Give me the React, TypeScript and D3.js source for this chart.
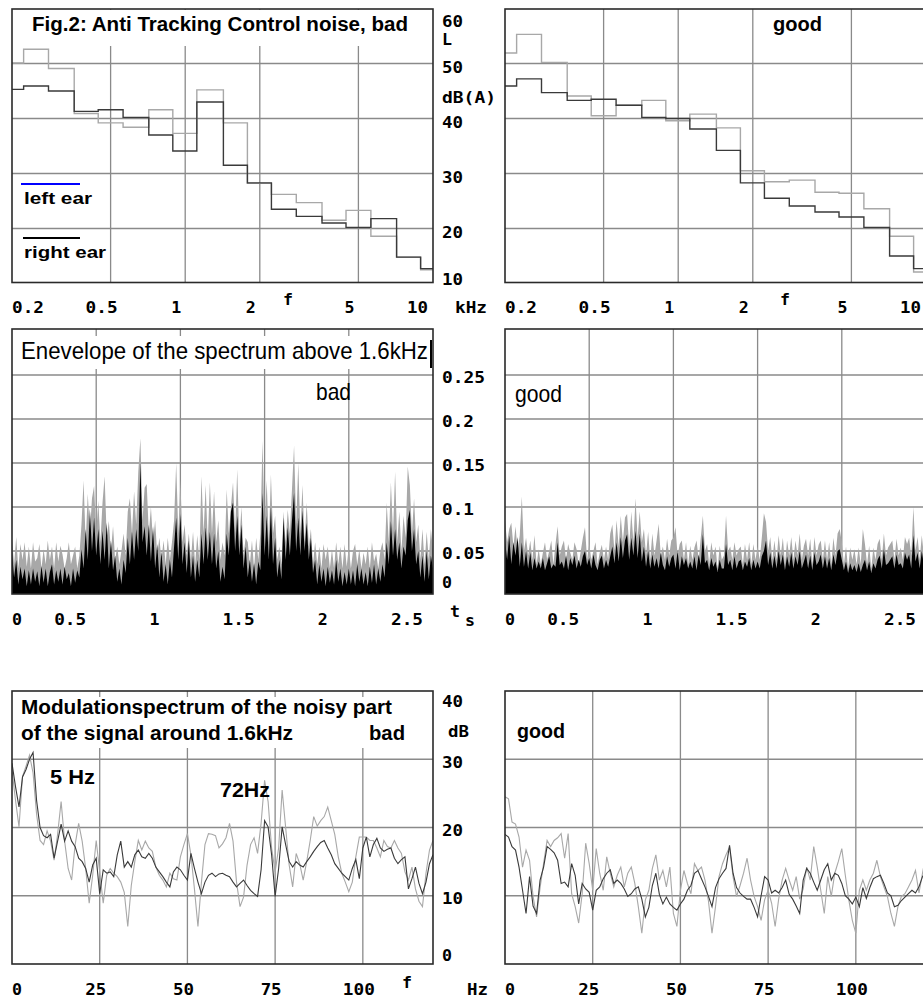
import React from 'react'
import * as d3 from 'd3'

// ---- top row: 1/3 octave spectra, band centres (kHz) and levels dB(A)
const bands = [0.2, 0.25, 0.315, 0.4, 0.5, 0.63, 0.8, 1, 1.25, 1.6, 2, 2.5, 3.15, 4, 5, 6.3, 8, 10]
const badLeft = [50.1, 52.6, 49.1, 40.9, 39.2, 38.4, 41.6, 37.3, 45.2, 39.2, 28.2, 26.2, 24.7, 21.5, 23.3, 18.6, 14.8, 12.5]
const badRight = [45.3, 45.9, 45.0, 41.3, 41.6, 40.2, 37.0, 34.1, 43.0, 31.5, 28.3, 23.5, 22.2, 21.0, 20.2, 21.8, 14.8, 12.7]
const goodLeft = [51.9, 55.3, 50.2, 44.1, 40.5, 42.4, 43.3, 39.6, 40.8, 38.3, 30.5, 28.5, 28.8, 26.6, 26.4, 23.6, 18.6, 12.1]
const goodRight = [45.9, 47.2, 44.7, 43.3, 43.5, 42.4, 40.2, 40.0, 38.1, 34.2, 28.3, 25.5, 24.1, 23.0, 22.1, 20.2, 15.0, 12.7]

const specTicks = [0.2, 0.5, 1, 2, 5, 10]
const specTickLabels = ['0.2', '0.5', '1', '2', '5', '10']
const specLevels = [60, 50, 40, 30, 20, 10]

// ---- middle row: envelope above 1.6kHz, one sample every 12.5 ms
const envStep = 0.0125
const envBadLeft = [
  .062, .035, .066, .030, .058, .040, .060, .032, .055, .030, .060, .038, .042, .058, .030, .052,
  .035, .062, .040, .055, .030, .060, .038, .056, .046, .030, .042, .060, .035, .045, .055, .030,
  .045, .080, .130, .060, .115, .070, .110, .124, .070, .107, .060, .105, .135, .065, .084, .050,
  .078, .040, .055, .035, .050, .070, .045, .095, .110, .070, .118, .080, .140, .178, .085, .122,
  .126, .070, .100, .060, .085, .045, .065, .040, .062, .035, .065, .040, .060, .085, .150, .070,
  .130, .060, .080, .045, .070, .040, .072, .035, .068, .040, .135, .070, .125, .060, .128, .070,
  .118, .060, .085, .040, .060, .045, .120, .070, .100, .128, .070, .143, .060, .100, .045, .065,
  .060, .035, .062, .030, .065, .040, .070, .175, .080, .130, .060, .137, .070, .090, .040, .055,
  .035, .095, .060, .097, .070, .120, .170, .080, .150, .070, .125, .060, .105, .055, .075, .035,
  .060, .035, .055, .030, .058, .040, .055, .030, .052, .030, .060, .035, .055, .030, .058, .032,
  .055, .030, .050, .058, .035, .052, .030, .048, .035, .055, .030, .060, .038, .047, .030, .050,
  .060, .040, .105, .060, .128, .070, .140, .060, .095, .050, .090, .065, .146, .125, .070, .110,
  .060, .080, .040, .075, .035, .072, .040, .075, .050
]
const envBadRight = [
  .048, .020, .040, .012, .032, .018, .030, .010, .028, .012, .030, .015, .027, .010, .033, .014,
  .030, .010, .026, .035, .012, .028, .015, .030, .012, .032, .018, .025, .010, .030, .014, .028,
  .020, .052, .030, .075, .040, .098, .050, .088, .045, .075, .035, .073, .040, .082, .030, .062,
  .028, .045, .015, .030, .012, .040, .025, .065, .035, .072, .040, .075, .050, .150, .060, .078,
  .045, .080, .038, .078, .030, .058, .020, .050, .015, .035, .012, .040, .020, .055, .088, .040,
  .092, .035, .060, .025, .062, .020, .045, .015, .040, .020, .070, .035, .077, .040, .072, .035,
  .070, .030, .050, .015, .032, .018, .070, .045, .095, .105, .050, .090, .045, .080, .030, .055,
  .020, .040, .015, .036, .012, .038, .028, .116, .045, .090, .040, .100, .035, .065, .020, .040,
  .018, .088, .040, .077, .045, .085, .116, .050, .088, .045, .096, .050, .082, .040, .065, .025,
  .040, .012, .035, .015, .030, .010, .032, .014, .028, .012, .040, .015, .030, .010, .026, .012,
  .030, .012, .028, .010, .035, .015, .030, .012, .026, .010, .032, .014, .035, .012, .030, .015,
  .035, .020, .060, .035, .084, .045, .075, .040, .060, .030, .055, .045, .085, .097, .050, .075,
  .035, .050, .020, .045, .015, .050, .018, .045, .030
]
const envGoodLeft = [
  .085, .060, .075, .082, .055, .078, .050, .068, .112, .050, .065, .045, .062, .040, .068, .035,
  .052, .035, .048, .060, .040, .050, .062, .035, .058, .078, .045, .055, .062, .040, .058, .048,
  .040, .060, .052, .035, .050, .065, .077, .040, .058, .040, .050, .060, .035, .048, .057, .040,
  .055, .040, .070, .080, .050, .085, .055, .090, .060, .088, .092, .055, .095, .060, .110, .065,
  .095, .060, .075, .045, .072, .040, .070, .045, .062, .081, .045, .055, .040, .064, .045, .062,
  .065, .077, .045, .058, .062, .040, .060, .035, .056, .040, .054, .062, .040, .065, .090, .050,
  .058, .035, .060, .045, .055, .030, .056, .040, .045, .090, .050, .055, .040, .060, .045, .052,
  .055, .035, .058, .040, .060, .035, .058, .040, .055, .040, .065, .093, .083, .050, .066, .040,
  .062, .040, .068, .045, .065, .035, .062, .045, .066, .040, .062, .045, .070, .040, .056, .064,
  .045, .064, .035, .066, .045, .057, .062, .040, .062, .040, .060, .035, .065, .045, .070, .075,
  .060, .035, .055, .030, .054, .040, .052, .035, .054, .035, .075, .058, .035, .056, .030, .054,
  .040, .058, .064, .040, .070, .045, .054, .058, .062, .040, .064, .045, .054, .040, .066, .058,
  .065, .045, .100, .050, .066, .040, .068, .045, .066
]
const envGoodRight = [
  .063, .040, .068, .035, .060, .045, .066, .032, .060, .032, .050, .030, .048, .028, .042, .030,
  .038, .030, .042, .028, .036, .044, .030, .035, .032, .060, .034, .038, .030, .045, .028, .042,
  .034, .045, .030, .040, .032, .044, .050, .034, .042, .030, .046, .034, .028, .040, .045, .030,
  .040, .032, .044, .055, .036, .060, .038, .066, .042, .062, .069, .040, .065, .045, .073, .042,
  .070, .038, .055, .032, .050, .030, .046, .032, .042, .030, .048, .034, .028, .044, .032, .042,
  .046, .030, .050, .028, .044, .034, .042, .030, .038, .030, .044, .028, .046, .034, .069, .036,
  .040, .028, .042, .032, .038, .026, .040, .030, .030, .058, .034, .040, .028, .044, .030, .038,
  .040, .028, .038, .032, .042, .028, .040, .030, .038, .030, .044, .050, .062, .034, .048, .030,
  .045, .030, .050, .034, .046, .028, .044, .032, .048, .030, .044, .034, .050, .030, .038, .046,
  .030, .045, .028, .048, .034, .038, .046, .030, .044, .030, .042, .028, .046, .034, .050, .052,
  .040, .028, .038, .025, .036, .028, .034, .026, .036, .026, .034, .040, .028, .038, .025, .036,
  .030, .040, .045, .030, .052, .034, .036, .040, .044, .030, .046, .034, .036, .030, .048, .040,
  .046, .030, .068, .038, .048, .030, .050, .034, .048
]
const envTicks = [0, 0.5, 1, 1.5, 2, 2.5]
const envTickLabels = ['0', '0.5', '1', '1.5', '2', '2.5']
const envLevels = [0.25, 0.2, 0.15, 0.1, 0.05, 0]
const envLevelLabels = ['0.25', '0.2', '0.15', '0.1', '0.05', '0']

// ---- bottom row: modulation spectrum, 1 Hz steps from 0 to 120 Hz, dB
const modBadLeft = [
  28.4, 24, 20.1, 27.5, 29, 30.6, 28, 22, 18.1, 17.5,
  19.5, 18, 15.2, 19, 23.8, 18, 14, 12.3, 17.5, 20.6,
  18, 14, 8.9, 13, 18.1, 13.5, 8.9, 13, 14, 13.3,
  12.8, 12, 10.5, 5.5, 11.5, 15, 18.1, 16.7, 18, 17,
  16.5, 14.2, 13, 12.3, 11.3, 13.3, 12.5, 12.3, 15.7, 17.5,
  19.1, 16, 11, 5.5, 12, 17.5, 19.1, 19, 18.8, 17,
  17.6, 18.5, 20.6, 18, 12, 8.4, 9.8, 14.5, 17.5, 18.5,
  16.2, 20.6, 26.9, 23.8, 17, 13.5, 17, 25.5, 20, 14.5,
  11.3, 16.2, 14.7, 12.3, 15, 18.1, 21.6, 20.2, 21, 21.6,
  23, 21, 19, 15.7, 13.3, 12, 10.6, 12, 15.7, 18.6,
  18.6, 18.6, 18.1, 18.1, 17, 15.7, 18.1, 17.2, 17, 18.1,
  17, 16.2, 13.5, 12.3, 14.2, 11, 9.2, 8.4, 13.3, 16.7,
  18.1
]
const modBadRight = [
  29.4, 26, 23, 27.4, 28.5, 30, 31, 24, 20, 18.8,
  18.5, 19, 15.5, 18, 20.5, 18, 19.5, 18, 17.2, 15.5,
  15, 14, 12, 14.5, 15.5, 10.3, 13.8, 13.3, 13.5, 12.8,
  16, 18, 14.2, 15, 14.2, 16, 16.7, 15.7, 15.5, 16.2,
  15.5, 14.2, 13.5, 12.8, 12, 11.3, 13.5, 14.2, 13.8, 13,
  12.3, 16.2, 14, 12, 10.3, 12, 13, 13.3, 12.8, 13.2,
  13.3, 13, 12.8, 12, 11.3, 11.8, 12.3, 11.5, 10.8, 10.3,
  9.9, 13.8, 21, 20.1, 16, 9.9, 14, 20.1, 17.5, 15,
  14.2, 15, 14.5, 14.2, 15, 15.7, 16.5, 17.2, 17.8, 18.1,
  17, 16, 14.7, 14, 13.3, 12.8, 12.3, 14, 15.3, 12.5,
  17, 18.6, 15.7, 17.5, 18.4, 17, 16.5, 16.8, 17, 15.5,
  14.7, 15.3, 15.7, 11, 12.5, 14.2, 11.8, 10.3, 12, 14.7,
  16
]
const modGoodLeft = [
  24.5, 24.2, 20.8, 20.5, 18.6, 14.2, 16.7, 15.2, 9.9, 6.9,
  11.2, 14.7, 18.1, 17.2, 18.1, 18.5, 19.1, 15.5, 19.1, 10.3,
  8.4, 6, 10.3, 17.7, 14.7, 10.8, 16.9, 13.3, 10.8, 15.7,
  13.3, 11.3, 13, 14.2, 11.3, 13.3, 14.2, 11.8, 8.4, 4.5,
  9.4, 10.8, 14, 16, 12.3, 13.7, 11.3, 14.2, 7.4, 5.5,
  10.8, 13.7, 11.8, 10.3, 14.7, 13.7, 14.2, 12.3, 9.2, 4.5,
  8.4, 12.8, 14.7, 16, 17.1, 12.8, 9.9, 11.5, 13.3, 15.5,
  12.3, 9.9, 8.4, 6.4, 9.4, 10.8, 8.9, 5.5, 9.5, 12.3,
  14, 12.3, 10.8, 12.8, 9.5, 11, 14.2, 12.3, 17.2, 14.2,
  10.8, 7.4, 12.8, 9.9, 13.3, 15, 16.9, 13, 9.4, 6.4,
  4.5, 10.8, 12.3, 10.8, 12.3, 13.3, 15.2, 12.8, 11.3, 9.9,
  7.4, 5.5, 8.4, 9.9, 10.3, 11.3, 12.3, 13.7, 10.4, 13.3,
  16
]
const modGoodRight = [
  19, 18.6, 17.2, 16.7, 14.2, 10.8, 7.4, 12.8, 8.5, 7.4,
  12.3, 14.2, 17.2, 16.8, 16.3, 15.2, 11.8, 12, 11.3, 14.7,
  13, 8.8, 11.8, 11, 10.5, 7.9, 10.8, 11.3, 12.5, 13.3,
  13.8, 11.8, 12.3, 11.8, 11, 9.9, 10.3, 11, 11.3, 9.5,
  6.9, 8.3, 11.5, 13.3, 10.2, 8.8, 9.8, 8.8, 8.3, 7.9,
  8.8, 9.5, 10.8, 11.5, 13.3, 13.7, 12.5, 11.3, 9.9, 8.4,
  11.2, 12.5, 13.3, 14, 17.4, 13.3, 11.2, 10.4, 9.9, 9.5,
  9.5, 8.3, 6.9, 10, 12.8, 12.3, 10.4, 10.8, 10.4, 11.2,
  12.3, 10.2, 9.5, 8.5, 7.4, 12.3, 14, 13.3, 12, 10.8,
  12.3, 13.8, 14.7, 12.3, 13.3, 13, 11.8, 10, 9.5, 8.8,
  9.8, 8.4, 11.2, 9.6, 11.2, 12.5, 12.8, 13, 11.8, 10.4,
  10, 8.4, 8.6, 9.3, 9.8, 10.3, 10.8, 10.4, 11.3, 12.8,
  13.5
]
const modTicks = [0, 25, 50, 75, 100]
const modLevels = [40, 30, 20, 10, 0]

const LIGHT = '#a8a8a8'
const DARK = '#3a3a3a'
const GRID = '#8a8a8a'
const FRAME = '#2a2a2a'
const cols = [12, 505]
const PW = 421

const monoFont = '"DejaVu Sans Mono", monospace'
const sansFont = '"Liberation Sans", Arial, sans-serif'

function Num({ x, y, s, anchor = 'start' }: any) {
  return (
    <text x={x} y={y} textAnchor={anchor} fontFamily={monoFont} fontWeight="bold" fontSize={15}
      textLength={s.length * 11 - 1} lengthAdjust="spacingAndGlyphs">{s}</text>
  )
}

function Txt({ x, y, s, w, size = 20, bold = true }: any) {
  return (
    <text x={x} y={y} fontFamily={sansFont} fontWeight={bold ? 'bold' : 'normal'} fontSize={size}
      textLength={w} lengthAdjust="spacingAndGlyphs">{s}</text>
  )
}

function xLabels(scale: any, ticks: number[], labels: string[], dx: number, y: number, left: number, right: number) {
  return ticks.map((t, i) => {
    const w = labels[i].length * 11 - 1
    const cx = Math.max(left + w / 2, Math.min(right - 5 - w / 2, scale(t) + dx))
    return <Num key={'xl' + i} x={cx} y={y} s={labels[i]} anchor="middle" />
  })
}

function Grid({ x, y, xt, yt, top, bottom, left, right }: any) {
  return (
    <g stroke={GRID} strokeWidth={1.3}>
      {xt.map((t: number) => <line key={'gx' + t} x1={x(t)} x2={x(t)} y1={top} y2={bottom} />)}
      {yt.map((t: number) => <line key={'gy' + t} x1={left} x2={right} y1={y(t)} y2={y(t)} />)}
    </g>
  )
}

function Frame({ left, top, bottom, right }: any) {
  return <rect x={left} y={top} width={right - left} height={bottom - top} fill="none" stroke={FRAME} strokeWidth={1.6} />
}

export default function App() {
  const specY = d3.scaleLinear().domain([10, 60]).range([283.5, 8.5])
  const envY = d3.scaleLinear().domain([0, 0.3]).range([595, 331])
  const modY = d3.scaleLinear().domain([0, 40]).range([964, 691])

  const stepLine = (x: any) => d3.line<[number, number]>()
    .x(d => x(d[0])).y(d => specY(d[1])).curve(d3.curveStepAfter)
  const stepPts = (vals: number[]) => {
    const pts: [number, number][] = bands.map((c, i) => [Math.max(0.2, Math.pow(10, Math.log10(c) - 0.05)), vals[i]])
    pts.push([10, vals[vals.length - 1]])
    return pts
  }

  const panels = cols.map((left, ci) => {
    const right = left + PW
    const specX = d3.scaleLog().domain([0.2, 10]).range([left, right])
    const envX = d3.scaleLinear().domain([0, 2.5]).range([left, right])
    const modX = d3.scaleLinear().domain([0, 120]).range([left, right])
    const sl = stepLine(specX)
    const area = d3.area<number>().x((_, i) => envX(i * envStep)).y0(envY(0)).y1(d => envY(d))
    const mline = d3.line<number>().x((_, i) => modX(i)).y(d => modY(d))
    const bad = ci === 0
    const sL = bad ? badLeft : goodLeft
    const sR = bad ? badRight : goodRight
    const eL = bad ? envBadLeft : envGoodLeft
    const eR = bad ? envBadRight : envGoodRight
    const mL = bad ? modBadLeft : modGoodLeft
    const mR = bad ? modBadRight : modGoodRight
    return (
      <g key={ci}>
        <defs>
          <clipPath id={'ce' + ci}><rect x={left} y={329} width={PW} height={265} /></clipPath>
          <clipPath id={'cm' + ci}><rect x={left} y={691} width={PW} height={273} /></clipPath>
        </defs>

        {/* spectrum */}
        <Grid x={specX} y={specY} xt={[0.5, 1, 2, 5]} yt={[20, 30, 40, 50]} top={9} bottom={282.5} left={left} right={right} />
        {bad && <rect x={left + 1} y={10} width={PW - 2} height={36} fill="#fff" />}
        <path d={sl(stepPts(sL)) || ''} fill="none" stroke={LIGHT} strokeWidth={1.4} />
        <path d={sl(stepPts(sR)) || ''} fill="none" stroke={DARK} strokeWidth={1.4} />
        <Frame left={left} right={right} top={9} bottom={282.5} />
        {xLabels(specX, specTicks, specTickLabels, -9, 313, left, right)}
        <Num x={left + (bad ? 271 : 275)} y={305} s="f" />

        {/* envelope */}
        <Grid x={envX} y={envY} xt={[0.5, 1, 1.5, 2]} yt={[0.05, 0.1, 0.15, 0.2, 0.25]} top={329} bottom={594} left={left} right={right} />
        {bad && <rect x={left + 1} y={336} width={PW - 4} height={33} fill="#fff" />}
        {bad && <line x1={431} x2={431} y1={340} y2={368} stroke="#000" strokeWidth={2} />}
        <g clipPath={`url(#ce${ci})`}>
          <path d={area(eL) || ''} fill={LIGHT} />
          <path d={area(eR) || ''} fill="#000" />
        </g>
        <Frame left={left} right={right} top={329} bottom={594} />
        {xLabels(envX, envTicks, envTickLabels, -26, 625, left, right)}

        {/* modulation spectrum */}
        <Grid x={modX} y={modY} xt={[25, 50, 75, 100]} yt={[10, 20, 30]} top={691} bottom={964} left={left} right={right} />
        {bad && <rect x={left + 1} y={697} width={PW - 2} height={51} fill="#fff" />}
        <g clipPath={`url(#cm${ci})`} fill="none" strokeWidth={1.1}>
          <path d={mline(mL) || ''} stroke={LIGHT} />
          <path d={mline(mR) || ''} stroke={DARK} />
        </g>
        <Frame left={left} right={right} top={691} bottom={964} />
        {xLabels(modX, modTicks, modTicks.map(String), -4, 995, left, right)}
      </g>
    )
  })

  return (
    <div style={{ position: 'absolute', left: 0, top: 0 }}>
      <svg width={923} height={1001} style={{ display: 'block', background: '#fff' }}>
        <rect x={0} y={0} width={923} height={1001} fill="#fff" />
        {panels}

        {/* titles and notes */}
        <Txt x={32} y={31} s="Fig.2: Anti Tracking Control noise, bad" w={376} />
        <Txt x={773} y={31} s="good" w={49} />
        <line x1={21} x2={80} y1={184} y2={184} stroke="#0000ff" strokeWidth={2} />
        <Txt x={24} y={204} s="left ear" w={68} size={16} />
        <line x1={23} x2={80} y1={238} y2={238} stroke="#000" strokeWidth={2} />
        <Txt x={24} y={258} s="right ear" w={82} size={16} />

        <Txt x={21} y={359} s="Enevelope of the spectrum above 1.6kHz" w={407} size={24} bold={false} />
        <Txt x={316} y={400} s="bad" w={35} size={24} bold={false} />
        <Txt x={515} y={402} s="good" w={47} size={24} bold={false} />

        <Txt x={21} y={714} s="Modulationspectrum of the noisy part" w={371} />
        <Txt x={21} y={740} s="of the signal around 1.6kHz" w={272} />
        <Txt x={369} y={740} s="bad" w={36} />
        <Txt x={50} y={784} s="5 Hz" w={45} />
        <Txt x={220} y={797} s="72Hz" w={50} />
        <Txt x={517} y={738} s="good" w={48} />

        {/* shared right-hand axes */}
        {specLevels.map(v => <Num key={'sl' + v} x={442} y={Math.max(27, Math.min(285, specY(v) + 9))} s={String(v)} />)}
        <Num x={442} y={45} s="L" />
        <Num x={442} y={103} s="dB(A)" />
        <Num x={455} y={313} s="kHz" />
        {envLevels.map((v, i) => <Num key={'el' + v} x={442} y={Math.min(588, envY(v) + 8)} s={envLevelLabels[i]} />)}
        <Num x={450} y={617} s="t" />
        <Num x={465} y={626} s="s" />
        {modLevels.map(v => <Num key={'ml' + v} x={442} y={Math.max(707, Math.min(961, modY(v) + 8.5))} s={String(v)} />)}
        <Num x={448} y={737} s="dB" />
        <Num x={402} y={988} s="f" />
        <Num x={467} y={995} s="Hz" />
      </svg>
    </div>
  )
}
